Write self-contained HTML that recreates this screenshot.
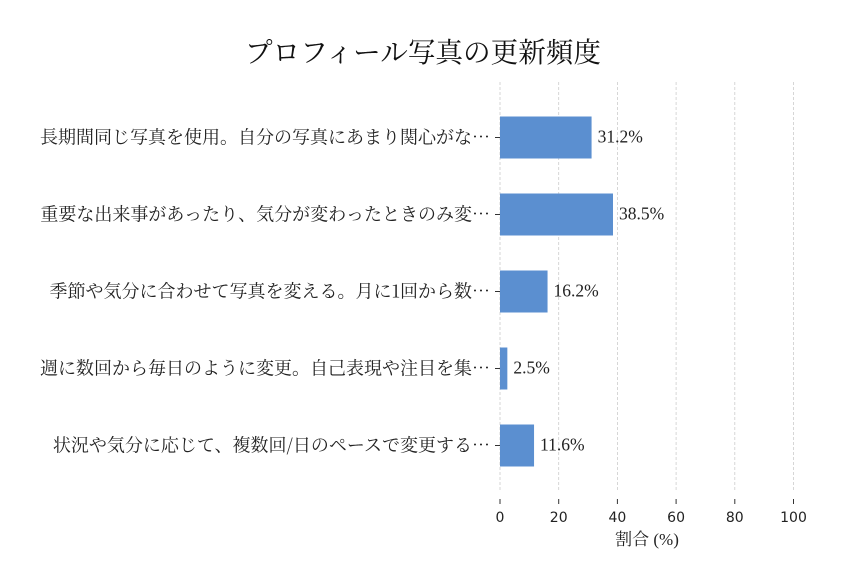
<!DOCTYPE html>
<html><head><meta charset="utf-8"><style>
body{margin:0;background:#fff;width:846px;height:588px;overflow:hidden}
svg{display:block}
.serif{font-family:"Liberation Serif","Noto Serif CJK JP",serif}
.cjk{font-family:"Noto Serif CJK JP","Liberation Serif",serif}
.sans{font-family:"DejaVu Sans","Liberation Sans",sans-serif}
</style></head><body>
<svg id="chart" width="846" height="588">
<text x="423" y="62" text-anchor="middle" class="cjk" font-size="27.6" fill="#111">プロフィール写真の更新頻度</text>
<g id="grid"></g><g id="bars"></g><g id="ylabels"></g><g id="xticks"></g>
<text x="647" y="545" text-anchor="middle" class="serif" font-size="17" fill="#222">割合 (%)</text>
</svg>
<script>
const categories=["長期間同じ写真を使用。自分の写真にあまり関心がな…","重要な出来事があったり、気分が変わったときのみ変…","季節や気分に合わせて写真を変える。月に1回から数…","週に数回から毎日のように変更。自己表現や注目を集…","状況や気分に応じて、複数回/日のペースで変更する…"];
const values=[31.2,38.5,16.2,2.5,11.6];
const valueLabels=["31.2%","38.5%","16.2%","2.5%","11.6%"];
const xTicks=[0,20,40,60,80,100];
const NS="http://www.w3.org/2000/svg";
const x=v=>500+v*2.935;
const y=i=>137.5+i*77;
function mk(t,a,p){const e=document.createElementNS(NS,t);for(const k in a)e.setAttribute(k,a[k]);p.appendChild(e);return e;}
const G=document.getElementById('grid'),B=document.getElementById('bars'),L=document.getElementById('ylabels'),X=document.getElementById('xticks');
xTicks.forEach(t=>{
 const g=mk('line',{x1:x(t),x2:x(t),y1:82,y2:492,stroke:'#ccc','stroke-width':0.8,'stroke-dasharray':'3,2'},G);
 
 
 const tk=mk('line',{x1:x(t),x2:x(t),y1:499,y2:504,stroke:'#333','stroke-width':1},X);
 
 
 const tl=mk('text',{x:x(t),y:522,'text-anchor':'middle','font-size':14,fill:'#222',class:'sans'},X);
 tl.textContent=t;
 
 
});
categories.forEach((c,i)=>{
 const r=mk('rect',{x:x(0),y:y(i)-21,width:x(values[i])-x(0),height:42,fill:'#5b8fd0'},B);
 
 
 const v=mk('text',{x:x(values[i])+6,y:y(i)+5,'font-size':17.5,fill:'#222',class:'serif'},B);
 v.textContent=valueLabels[i];
 
 
 const tk=mk('line',{x1:495,x2:500,y1:y(i),y2:y(i),stroke:'#333','stroke-width':1},L);
 
 
 const t=mk('text',{x:490,y:y(i)+6,'text-anchor':'end','font-size':18,fill:'#222',class:'cjk'},L);
 t.textContent=c;
 
 
});
</script>
</body></html>
